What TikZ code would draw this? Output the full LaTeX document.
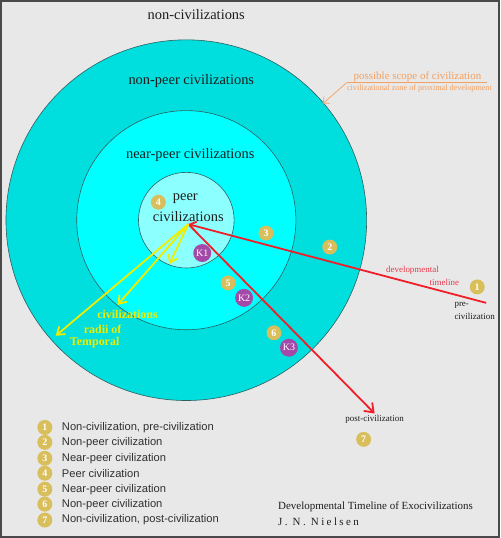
\documentclass[tikz,border=0pt]{standalone}
\usepackage{fontspec}
\setmainfont{Liberation Serif}
\newfontfamily\legendfont{Liberation Sans}
\usetikzlibrary{arrows.meta}
\definecolor{bg}{HTML}{E8E8E8}
\definecolor{frame}{HTML}{4A4A4A}
\definecolor{outerc}{HTML}{00DEDE}
\definecolor{midc}{HTML}{00FFFF}
\definecolor{innerc}{HTML}{8CFFFF}
\definecolor{ring}{HTML}{2F5F5F}
\definecolor{gold}{HTML}{D9BE5C}
\definecolor{purp}{HTML}{A449A8}
\definecolor{tline}{HTML}{F01E28}
\definecolor{yel}{HTML}{F0EE00}
\definecolor{orng}{HTML}{F4A060}
\definecolor{redtxt}{HTML}{E8384A}
\definecolor{ink}{HTML}{1E1E1E}
\definecolor{legink}{HTML}{303030}
\tikzset{
  badge/.style={circle, fill=gold, inner sep=0pt, minimum size=15pt, text=white,
    font=\fontsize{10}{10}\selectfont\bfseries},
  kbadge/.style={circle, fill=purp, inner sep=0pt, minimum size=18pt, text=white,
    font=\fontsize{10}{10}\selectfont},
  zonelabel/.style={text=ink, inner sep=0pt, font=\fontsize{14.5}{16}\selectfont},
  smalltxt/.style={text=ink, inner sep=0pt, font=\fontsize{9}{10}\selectfont},
  redlabel/.style={text=redtxt, inner sep=0pt, font=\fontsize{9}{10}\selectfont},
  yellabel/.style={text=yel, inner sep=0pt, font=\fontsize{12}{13}\selectfont\bfseries},
  legtext/.style={text=legink, anchor=west, inner sep=0pt, font=\legendfont\fontsize{11.2}{12}\selectfont},
  credit/.style={text=ink, anchor=west, inner sep=0pt, font=\fontsize{11}{12}\selectfont},
  tl/.style={tline, line width=1.8pt},
  yarrow/.style={yel, line width=1.8pt, -{Straight Barb[length=7pt,width=10pt]}},
  ringline/.style={draw=ring, line width=0.6pt}
}
\begin{document}
\begin{tikzpicture}[x=1pt,y=-1pt]
% background and frame
\fill[bg] (0,0) rectangle (500,538);
\draw[frame, line width=2pt] (0,0) rectangle (500,538);
\useasboundingbox (0,0) rectangle (500,538);

% zones
\coordinate (ctr) at (186,220);
\path[ringline, fill=outerc] (ctr) circle (181pt);
\path[ringline, fill=midc] (ctr) circle (110pt);
\path[ringline, fill=innerc] (ctr) circle (48pt);

% zone labels
\node[zonelabel] (noncivs) at (196,14) {non-civilizations};
\node[zonelabel] (nonpeer) at (191,80) {non-peer civilizations};
\node[zonelabel] (nearpeer) at (190,155) {near-peer civilizations};
\node[zonelabel] (peer1) at (185,198) {peer};
\node[zonelabel] (peer2) at (188,216) {civilizations};

% scope annotation
\node[text=orng, inner sep=0pt, font=\fontsize{11}{12}\selectfont] (scope) at (418,76) {possible scope of civilization};
\node[text=orng, inner sep=0pt, font=\fontsize{8.2}{9}\selectfont] (zpd) at (420,88) {civilizational zone of proximal development};
\coordinate (ulA) at (347,82);
\coordinate (ulB) at (488,82);
\coordinate (scopetip) at (323,103);
\draw[orng, line width=0.7pt] (ulB) -- (ulA);
\draw[orng, line width=0.7pt, -{Straight Barb[length=5pt,width=9pt]}] (ulA) -- (scopetip);

% timeline
\coordinate (apex) at (188,224);
\coordinate (preend) at (487,303);
\coordinate (postend) at (375,414);
\draw[tl, -{Straight Barb[length=6pt,width=9pt]}] (preend) -- (apex);
\draw[tl, -{Straight Barb[length=8pt,width=12pt]}] (apex) -- (postend);
\node[redlabel] (devtl1) at (413,270) {developmental};
\node[redlabel] (devtl2) at (445,282) {timeline};
\node[smalltxt, anchor=west] (pre1) at (455,305) {pre-};
\node[smalltxt, anchor=west] (pre2) at (455,317) {civilization};
\node[smalltxt] (post) at (375,420) {post-civilization};

% temporal radii
\coordinate (yend1) at (169,264);
\coordinate (yend2) at (117,305);
\coordinate (yend3) at (55,336);
\draw[yarrow] (apex) -- (yend1);
\draw[yarrow] (apex) -- (yend2);
\draw[yarrow] (apex) -- (yend3);
\node[yellabel] (yt1) at (127,315) {civilizations};
\node[yellabel] (yt2) at (102,330) {radii of};
\node[yellabel] (yt3) at (94,343) {Temporal};

% badges in diagram
\node[badge] (b4) at (158,202) {4};
\node[badge] (b3) at (266,233) {3};
\node[badge] (b2) at (330,247) {2};
\node[badge] (b1) at (478,287) {1};
\node[badge] (b5) at (228,283) {5};
\node[badge] (b6) at (274,333) {6};
\node[badge] (b7) at (364,440) {7};
\node[kbadge] (k1) at (202,253) {K1};
\node[kbadge] (k2) at (244,298) {K2};
\node[kbadge] (k3) at (289,348) {K3};

% legend
\node[badge] (l1) at (44,428) {1};
\node[legtext] (lt1) at (61,428) {Non-civilization, pre-civilization};
\node[badge] (l2) at (44,443) {2};
\node[legtext] (lt2) at (61,443) {Non-peer civilization};
\node[badge] (l3) at (44,459) {3};
\node[legtext] (lt3) at (61,459) {Near-peer civilization};
\node[badge] (l4) at (44,474) {4};
\node[legtext] (lt4) at (61,474) {Peer civilization};
\node[badge] (l5) at (44,490) {5};
\node[legtext] (lt5) at (61,490) {Near-peer civilization};
\node[badge] (l6) at (44,505) {6};
\node[legtext] (lt6) at (61,505) {Non-peer civilization};
\node[badge] (l7) at (44,521) {7};
\node[legtext] (lt7) at (61,521) {Non-civilization, post-civilization};

% credit
\node[credit] (cr1) at (278,508) {Developmental Timeline of Exocivilizations};
\node[credit] (cr2) at (278,523) {\addfontfeature{LetterSpace=22}J. N. Nielsen};
\end{tikzpicture}
\end{document}
